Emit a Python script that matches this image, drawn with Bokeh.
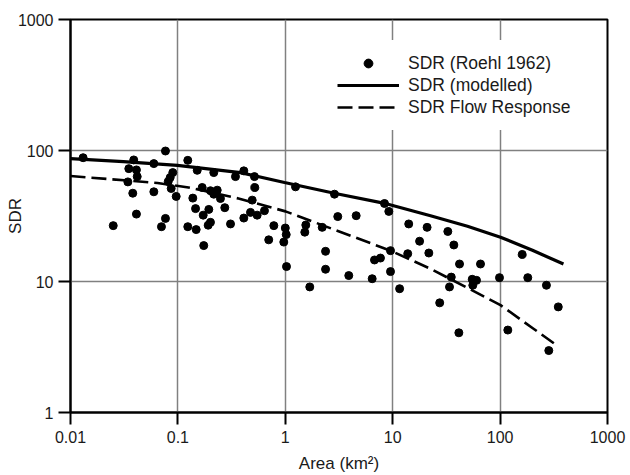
from bokeh.plotting import figure
from bokeh.models import Range1d, FixedTicker, Legend, LegendItem
from bokeh.embed import file_html
from bokeh.resources import INLINE

# Observed data: SDR (Roehl 1962)
area = [0.0131, 0.0250, 0.0388, 0.0349, 0.0411, 0.0418, 0.0342, 0.0380, 0.0411, 0.0597,
        0.0597, 0.0766, 0.0766, 0.0703, 0.0896, 0.0848, 0.0813, 0.0866, 0.0964, 0.1236,
        0.1513, 0.1683, 0.1377, 0.2158, 0.201, 0.2323, 0.2158, 0.249, 0.146, 0.194,
        0.2733, 0.172, 0.201, 0.1914, 0.1236, 0.148, 0.174, 0.309, 0.3436, 0.411,
        0.516, 0.520, 0.492, 0.474, 0.547, 0.411, 0.640, 0.782, 0.701, 1.00,
        1.02, 0.968, 1.245, 1.026, 1.552, 1.519, 2.206, 2.37, 2.37, 1.69,
        2.87, 3.08, 4.57, 3.90, 6.44, 6.77, 7.69, 8.39, 9.2, 9.54,
        9.54, 11.6, 13.8, 14.1, 17.8, 20.9, 21.7, 32.6, 37.1, 41.9,
        65.7, 35.1, 33.8, 27.4, 41.3, 55.0, 60.3, 55.7, 98.7, 160.6,
        181, 270, 348, 118, 284]
sdr = [88.1, 26.7, 84.7, 72.7, 71.1, 63.2, 57.6, 47.2, 32.7, 79.4,
       48.4, 99.1, 30.3, 26.2, 67.8, 62.2, 58.0, 51.3, 44.6, 84.1,
       70.6, 52.2, 43.3, 67.8, 49.3, 49.8, 46.4, 43.0, 36.0, 35.5,
       36.6, 32.1, 28.3, 26.9, 26.2, 24.9, 18.8, 27.5, 63.2, 69.9,
       63.2, 52.2, 41.8, 33.7, 32.1, 30.5, 34.7, 26.7, 20.8, 25.6,
       22.8, 20.0, 52.8, 13.0, 27.0, 23.8, 25.9, 17.0, 12.4, 9.09,
       46.4, 31.3, 31.8, 11.1, 10.5, 14.6, 15.1, 39.4, 34.3, 17.2,
       11.9, 8.81, 16.3, 27.5, 20.3, 25.9, 16.5, 24.1, 19.0, 13.6,
       13.6, 10.8, 9.09, 6.87, 4.06, 10.4, 10.2, 9.36, 10.7, 16.1,
       10.7, 9.36, 6.4, 4.26, 2.97]

# SDR (modelled)
model_area = [0.01, 0.0311, 0.0991, 0.383, 0.983, 2.93, 8.21, 22.5, 49.7, 100.9, 200, 389]
model_sdr = [86.6, 82.2, 77.1, 67.8, 57.0, 47.0, 39.7, 31.8, 26.4, 21.8, 17.3, 13.6]

# SDR Flow Response
flow_area = [0.01, 0.0339, 0.0646, 0.1256, 0.3666, 1.004, 2.93, 9.54, 22.5, 49.7, 100.9, 204.6, 349.8]
flow_sdr = [63.8, 59.0, 56.5, 52.2, 43.0, 34.3, 24.7, 17.2, 12.5, 8.93, 6.6, 4.36, 3.18]

x_ticks = [0.01, 0.1, 1, 10, 100, 1000]
x_tick_labels = ["0.01", "0.1", "1", "10", "100", "1000"]
y_ticks = [1, 10, 100, 1000]
y_tick_labels = ["1", "10", "100", "1000"]

FONT = "Liberation Sans"
TXT = "#1a1a1a"

p = figure(width=630, height=475, x_axis_type="log", y_axis_type="log",
           x_range=Range1d(0.01, 1000), y_range=Range1d(1, 1000),
           output_backend="svg", toolbar_location=None,
           min_border_left=70, min_border_right=23, min_border_top=19, min_border_bottom=63)

p.background_fill_color = "white"
p.border_fill_color = "white"
p.outline_line_color = "black"
p.outline_line_width = 2
p.outline_line_alpha = 1

p.xaxis.ticker = FixedTicker(ticks=x_ticks)
p.yaxis.ticker = FixedTicker(ticks=y_ticks)
p.xgrid.ticker = FixedTicker(ticks=x_ticks)
p.ygrid.ticker = FixedTicker(ticks=y_ticks)
p.xaxis.major_label_overrides = {t: l for t, l in zip(x_ticks, x_tick_labels)}
p.yaxis.major_label_overrides = {t: l for t, l in zip(y_ticks, y_tick_labels)}

for g in (p.xgrid, p.ygrid):
    g.grid_line_color = "#808080"
    g.grid_line_width = 1.5

for ax in (p.xaxis[0], p.yaxis[0]):
    ax.axis_line_color = "black"
    ax.axis_line_width = 2
    ax.major_tick_line_color = "black"
    ax.major_tick_line_width = 2
    ax.major_tick_out = 12
    ax.major_tick_in = 0
    ax.minor_tick_line_color = None
    ax.major_label_text_font = FONT
    ax.major_label_text_font_size = "16px"
    ax.major_label_text_color = TXT
    ax.axis_label_text_font = FONT
    ax.axis_label_text_font_size = "17px"
    ax.axis_label_text_font_style = "normal"
    ax.axis_label_text_color = TXT

p.xaxis.axis_label = "Area (km²)"
p.yaxis.axis_label = "SDR"
p.xaxis.major_label_standoff = 6
p.xaxis.axis_label_standoff = 8
p.yaxis.major_label_standoff = 5
p.yaxis.axis_label_standoff = -10

r_model = p.line(model_area, model_sdr, line_color="black", line_width=3.2)
r_flow = p.line(flow_area, flow_sdr, line_color="black", line_width=2.6, line_dash="15 6")
r_pts = p.scatter(area, sdr, size=8, color="black", marker="circle")

legend = Legend(items=[
    LegendItem(label="SDR (Roehl 1962)", renderers=[r_pts]),
    LegendItem(label="SDR (modelled)", renderers=[r_model]),
    LegendItem(label="SDR Flow Response", renderers=[r_flow]),
], location=(255, 282))
legend.background_fill_color = "white"
legend.background_fill_alpha = 1
legend.border_line_alpha = 0
legend.padding = 12
legend.spacing = 0
legend.margin = 0
legend.glyph_width = 62
legend.glyph_height = 22
legend.label_height = 22
legend.label_standoff = 9
legend.label_text_font = FONT
legend.label_text_font_size = "17.5px"
legend.label_text_color = TXT
p.add_layout(legend)

open("out.html", "w").write(file_html(p, INLINE))
